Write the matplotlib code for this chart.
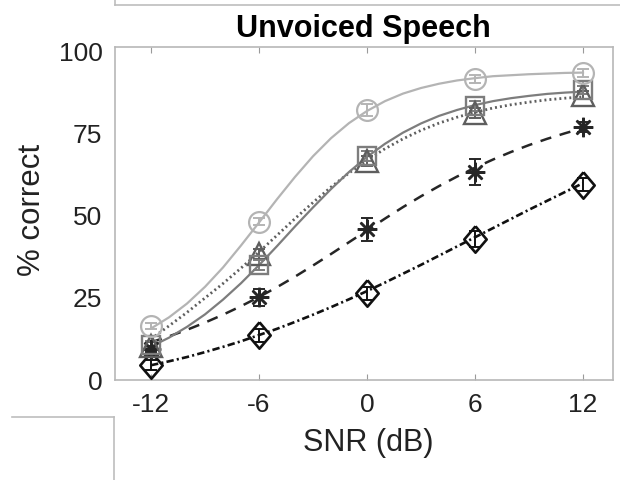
import matplotlib

matplotlib.use("Agg")
import matplotlib.pyplot as plt  # noqa: E402
from matplotlib.lines import Line2D  # noqa: E402

plt.rcParams["font.family"] = ["Liberation Sans", "DejaVu Sans"]

# measured points
SNR = [-12, -6, 0, 6, 12]
circle_y = [16.5, 48.3, 82.3, 91.8, 93.5]
circle_err = [1.0, 1.2, 1.8, 1.2, 1.2]
square_y = [10.8, 35.0, 68.2, 83.6, 88.5]
square_err = [1.0, 1.5, 1.5, 1.5, 1.2]
triangle_y = [10.5, 38.5, 66.8, 81.5, 87.0]
triangle_err = [1.0, 1.5, 1.5, 1.5, 1.2]
star_y = [9.5, 25.2, 46.0, 63.5, 77.2]
star_err = [1.0, 2.5, 3.5, 4.0, 1.5]
diamond_y = [4.5, 13.6, 26.4, 43.0, 59.5]
diamond_err = [1.5, 2.0, 2.0, 2.5, 2.0]

# fitted curves, every 1 dB
CURVE_X = [-12, -11, -10, -9, -8, -7, -6, -5, -4, -3, -2, -1, 0,
           1, 2, 3, 4, 5, 6, 7, 8, 9, 10, 11, 12]
circle_fit = [15.7, 19.1, 23.3, 28.4, 34.3, 41.0, 48.0, 55.1, 61.9, 68.2,
              73.7, 78.3, 82.0, 85.0, 87.3, 89.0, 90.3, 91.3, 92.0, 92.6,
              92.9, 93.2, 93.4, 93.6, 93.7]
square_fit = [10.2, 12.9, 16.2, 20.0, 24.5, 29.5, 35.0, 40.8, 46.8, 52.6,
              58.2, 63.4, 68.0, 72.0, 75.4, 78.2, 80.5, 82.3, 83.8, 85.0,
              85.9, 86.6, 87.2, 87.6, 87.9]
dotted_fit = [12.5, 16.5, 20.6, 25.0, 29.4, 34.1, 39.0, 44.1, 49.2, 54.1,
              58.8, 63.1, 67.0, 70.5, 73.5, 76.1, 78.3, 80.1, 81.6, 82.9,
              83.9, 84.7, 85.4, 85.9, 86.3]
dashed_fit = [11.5, 13.3, 15.3, 17.5, 19.9, 22.5, 25.3, 28.3, 31.5, 34.9,
              38.4, 42.0, 45.6, 49.2, 52.7, 56.0, 59.1, 62.0, 64.7, 67.2,
              69.5, 71.6, 73.5, 75.2, 76.8]
dashdot_fit = [4.5, 5.7, 7.0, 8.5, 10.1, 11.8, 13.7, 15.6, 17.7, 19.9,
               22.2, 24.6, 27.1, 29.7, 32.4, 35.1, 37.9, 40.7, 43.5, 46.3,
               49.1, 51.9, 54.6, 57.3, 60.0]

X_TICKS = [-12, -6, 0, 6, 12]
Y_TICKS = [0, 25, 50, 75, 100]

DIAMOND = [(0, 1), (0.85, 0), (0, -1), (-0.85, 0), (0, 1)]


def draw_series(ax, y, err, fit, color, marker, ms, mew, ls, lw):
    ax.plot(CURVE_X, fit, color=color, lw=lw, linestyle=ls, zorder=2)
    ax.errorbar(SNR, y, yerr=err, fmt="none", ecolor=color, elinewidth=1.4,
                capsize=4, capthick=1.4, zorder=3)
    ax.plot(SNR, y, linestyle="none", marker=marker, ms=ms, mfc="none",
            mec=color, mew=mew, zorder=4)


fig = plt.figure(figsize=(6.2, 4.8), dpi=100)
ax = fig.add_axes([115 / 620, 1 - 380 / 480, 497.7 / 620, 333 / 480])

draw_series(ax, diamond_y, diamond_err, dashdot_fit, "#111111", DIAMOND,
            19, 1.9, (0, (2.8, 1.2, 0.8, 1.2)), 1.9)
draw_series(ax, star_y, star_err, dashed_fit, "#262626", (8, 2, 0),
            14, 1.8, (0, (4.5, 3.5)), 1.8)
draw_series(ax, triangle_y, triangle_err, dotted_fit, "#5e5e5e", "^",
            16, 1.7, (0, (0.7, 1.1)), 2.0)
draw_series(ax, square_y, square_err, square_fit, "#7d7d7d", "s",
            13.5, 1.7, "-", 1.6)
draw_series(ax, circle_y, circle_err, circle_fit, "#b4b4b4", "o",
            15, 1.6, "-", 1.6)

ax.set_xlim(-14, 13.65)
ax.set_ylim(0, 101.5)
ax.set_xticks(X_TICKS)
ax.set_xticklabels([str(v) for v in X_TICKS])
ax.set_yticks(Y_TICKS)
ax.set_yticklabels([str(v) for v in Y_TICKS])
ax.tick_params(axis="x", direction="in", length=4, width=0.8,
               color="#9a9a9a", top=True, pad=9, labelsize=19,
               labelcolor="#222222")
ax.tick_params(axis="y", direction="in", length=0, pad=9, labelsize=19,
               labelcolor="#222222")
for sp in ax.spines.values():
    sp.set_color("#b8b8b8")
    sp.set_linewidth(1.2)

ax.set_title("Unvoiced Speech", fontsize=22, fontweight="bold", pad=7)
ax.set_xlabel("SNR (dB)", fontsize=22, color="#222222")
ax.set_ylabel("% correct", fontsize=22.5, color="#222222")
ax.xaxis.set_label_coords(0.508, -0.19)
ax.xaxis.label.set_verticalalignment("center")
ax.yaxis.set_label_coords(-0.167, 0.51)
ax.yaxis.label.set_verticalalignment("center")

# crop-frame lines visible in the source image
frame = dict(color="#bdbdbd", lw=1.2, transform=fig.transFigure)
fig.add_artist(Line2D([115 / 620, 1], [1 - 5 / 480, 1 - 5 / 480], **frame))
fig.add_artist(Line2D([115 / 620, 115 / 620], [1, 1 - 5 / 480], **frame))
fig.add_artist(Line2D([12 / 620, 114 / 620], [1 - 417 / 480, 1 - 417 / 480], **frame))
fig.add_artist(Line2D([114 / 620, 114 / 620], [1 - 417 / 480, 0], **frame))

fig.savefig("out.png", dpi=100)
